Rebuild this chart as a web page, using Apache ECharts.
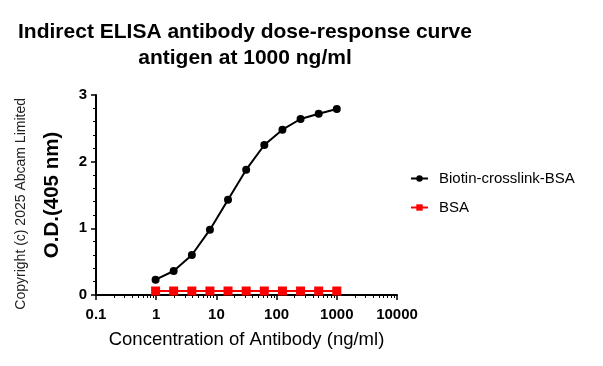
<!DOCTYPE html>
<html>
<head>
<meta charset="utf-8">
<script src="https://cdn.jsdelivr.net/npm/echarts@6/dist/echarts.min.js"></script>
<style>
  html,body{margin:0;padding:0;background:#fff;}
  #ch{width:603px;height:366px;}
</style>
</head>
<body>
<div id="ch"></div>
<script>
// === Datos ===
const conc   = [0.977, 1.95, 3.91, 7.81, 15.6, 31.25, 62.5, 125, 250, 500, 1000];
const biotin = [0.23, 0.36, 0.60, 0.98, 1.43, 1.88, 2.25, 2.48, 2.64, 2.72, 2.79];
const bsa    = [0.06, 0.06, 0.06, 0.06, 0.06, 0.06, 0.06, 0.06, 0.06, 0.06, 0.06];
const xMinor = [];
[0.1, 1, 10, 100, 1000].forEach(d => { for (let k = 2; k <= 9; k++) xMinor.push(d * k); });

const FONT = 'Liberation Sans, Arial, sans-serif';

const chart = echarts.init(document.getElementById('ch'));
chart.setOption({
  animation: false,
  textStyle: { fontFamily: FONT },
  title: {
    text: 'Indirect ELISA antibody dose-response curve\nantigen at 1000 ng/ml',
    left: 240, top: 14, textAlign: 'center',
    textStyle: { fontSize: 21, fontWeight: 'bold', color: '#000', lineHeight: 26, fontFamily: FONT }
  },
  legend: {
    orient: 'vertical', left: 405, top: 166, itemGap: 14, itemWidth: 17, itemHeight: 8,
    textStyle: { fontSize: 15, color: '#000', fontFamily: FONT, padding: [0, 0, 0, 6] },
    data: ['Biotin-crosslink-BSA', 'BSA']
  },
  grid: { left: 96, right: 206, top: 95, bottom: 71 },
  xAxis: [{
    type: 'log', logBase: 10, min: 0.1, max: 10000,
    name: 'Concentration of Antibody (ng/ml)', nameLocation: 'middle', nameGap: 35,
    nameTextStyle: { fontSize: 18.5, color: '#000', fontFamily: FONT },
    axisLine: { lineStyle: { color: '#000', width: 2 } },
    axisTick: { length: 5, lineStyle: { color: '#000', width: 1.5 } },
    axisLabel: { fontSize: 15, fontWeight: 'bold', color: '#000', margin: 12, formatter: v => String(v) },
    splitLine: { show: false }
  }, {
    type: 'log', logBase: 10, min: 0.1, max: 10000, position: 'bottom',
    axisLine: { show: false },
    axisTick: { show: true, length: 3, customValues: xMinor, lineStyle: { color: '#000', width: 1 } },
    axisLabel: { show: false }, splitLine: { show: false }
  }],
  yAxis: {
    type: 'value', min: 0, max: 3, interval: 1,
    name: 'O.D.(405 nm)', nameLocation: 'middle', nameGap: 33,
    nameTextStyle: { fontSize: 20.5, fontWeight: 'bold', color: '#000', fontFamily: FONT },
    axisLine: { show: true, lineStyle: { color: '#000', width: 2 } },
    axisTick: { show: true, length: 5, lineStyle: { color: '#000', width: 1.5 } },
    minorTick: { show: true, splitNumber: 5, length: 3, lineStyle: { color: '#000', width: 1 } },
    axisLabel: { fontSize: 15, fontWeight: 'bold', color: '#000', margin: 9 },
    splitLine: { show: false }
  },
  graphic: [{
    type: 'text', left: 14, top: 98, rotation: Math.PI / 2,
    style: { text: 'Copyright (c) 2025 Abcam Limited', fontSize: 14, fill: '#222', fontFamily: FONT }
  }],
  series: [{
    name: 'Biotin-crosslink-BSA', type: 'line', symbol: 'circle', symbolSize: 8,
    lineStyle: { color: '#000', width: 2 }, itemStyle: { color: '#000' },
    data: conc.map((c, i) => [c, biotin[i]])
  }, {
    name: 'BSA', type: 'line', symbol: 'rect', symbolSize: 9,
    lineStyle: { color: '#ff0000', width: 2 }, itemStyle: { color: '#ff0000' },
    data: conc.map((c, i) => [c, bsa[i]])
  }]
});
</script>
</body>
</html>
